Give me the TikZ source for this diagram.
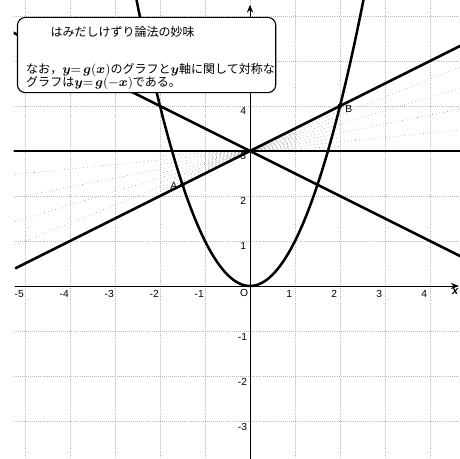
\documentclass[tikz,border=0pt]{standalone}
\usepackage{fontspec}
\usepackage{amsmath}
\setsansfont{Liberation Sans}
\newfontfamily\jp{Noto Sans CJK JP}
\usetikzlibrary{arrows.meta}
\tikzset{
  gridline/.style={gray!55, densely dotted, line width=0.3pt},
  fan/.style={gray!80, dotted, line width=0.4pt},
  axisline/.style={black, line width=0.6pt, -{Stealth[length=5pt,width=4pt]}},
  heavy/.style={black, line width=1.6pt},
  ticklab/.style={font=\sffamily\fontsize{6.5}{7}\selectfont, inner sep=0.5pt},
  ptdot/.style={circle, fill=black, inner sep=0pt, minimum size=3pt},
  callout/.style={draw=black, line width=0.7pt, fill=white, rounded corners=5pt, inner sep=0pt},
  jptext/.style={font=\jp\fontsize{7.6}{9}\selectfont, inner sep=0pt, anchor=west}
}
\newcommand{\bsy}[1]{\boldsymbol{#1}}
\begin{document}
\begin{tikzpicture}[x=1cm,y=1cm]
\useasboundingbox (-5.5556,-3.8444) rectangle (4.6667,6.3556);
\begin{scope}
\clip (-5.25,-3.8444) rectangle (4.6667,6.3556);
% grid
\foreach \x in {-5,...,4} \draw[gridline] (\x,-3.85) -- (\x,6.36);
\foreach \y in {-3,...,6} \draw[gridline] (-5.25,\y) -- (4.67,\y);
% fan of dotted lines
\foreach \k in {0.1,0.2,0.3,0.4} \draw[fan] (-5.3,{3-5.3*\k}) -- (4.7,{3+4.7*\k});
\foreach \k in {0.05,0.15,0.25,0.35,0.45} \draw[fan] (-2,{3-2*\k}) -- (2,{3+2*\k});
\foreach \k in {0.025,0.075,0.125,0.175,0.225,0.275,0.325,0.375,0.425,0.475} \draw[fan] (-1,{3-\k}) -- (1,{3+\k});
% axes
\draw[axisline] (-5.22,0) -- (4.64,0);
\draw[axisline] (0,-3.85) -- (0,6.25);
% lines
\draw[heavy] (-5.3,3) -- (4.7,3);
\draw[heavy] (-5.22,{3-0.5*5.22}) -- (4.7,{3+0.5*4.7});
\draw[heavy] (-5.3,{3+0.5*5.3}) -- (4.7,{3-0.5*4.7});
% parabola
\draw[heavy] plot[domain=-2.56:2.56, samples=100, smooth] (\x,{\x*\x});
\end{scope}
% points
\node[ptdot] (A) at (-1.5,2.25) {};
\node[ptdot] (B) at (2,4) {};
\node[ticklab, anchor=east] (Alab) at ([xshift=-1pt,yshift=-1pt]A.west) {A};
\node[ticklab, anchor=west] (Blab) at ([xshift=1pt,yshift=-2pt]B.east) {B};
% tick labels
\foreach \x in {-5,-4,-3,-2,-1,1,2,3,4} \node[ticklab] (tx\x) at (\x-0.13,-0.17) {\x};
\node[ticklab] (orig) at (-0.13,-0.16) {O};
\foreach \y in {1,2,3,4} \node[ticklab, anchor=east] (ty\y) at (-0.06,\y-0.1) {\y};
\foreach \y in {-1,-2,-3} \node[ticklab, anchor=east] (ty\y) at (-0.04,\y-0.14) {\y};
\node[ticklab, font=\sffamily\bfseries\itshape\fontsize{7}{8}\selectfont] (xlab) at (4.56,-0.13) {x};
% callout box
\node[callout, anchor=north west, minimum width=5.74cm, minimum height=1.67cm] (box) at (-5.18,5.98) {};
\node[jptext] (title) at (-4.44,5.64) {はみだしけずり論法の妙味};
\node[jptext] (line1) at (-4.98,4.80) {なお，$\bsy{y}{=}\,\bsy{g}(\bsy{x})$のグラフと$\bsy{y}$軸に関して対称な};
\node[jptext] (line2) at (-4.98,4.50) {グラフは$\bsy{y}{=}\,\bsy{g}(-\bsy{x})$である。};
\end{tikzpicture}
\end{document}
